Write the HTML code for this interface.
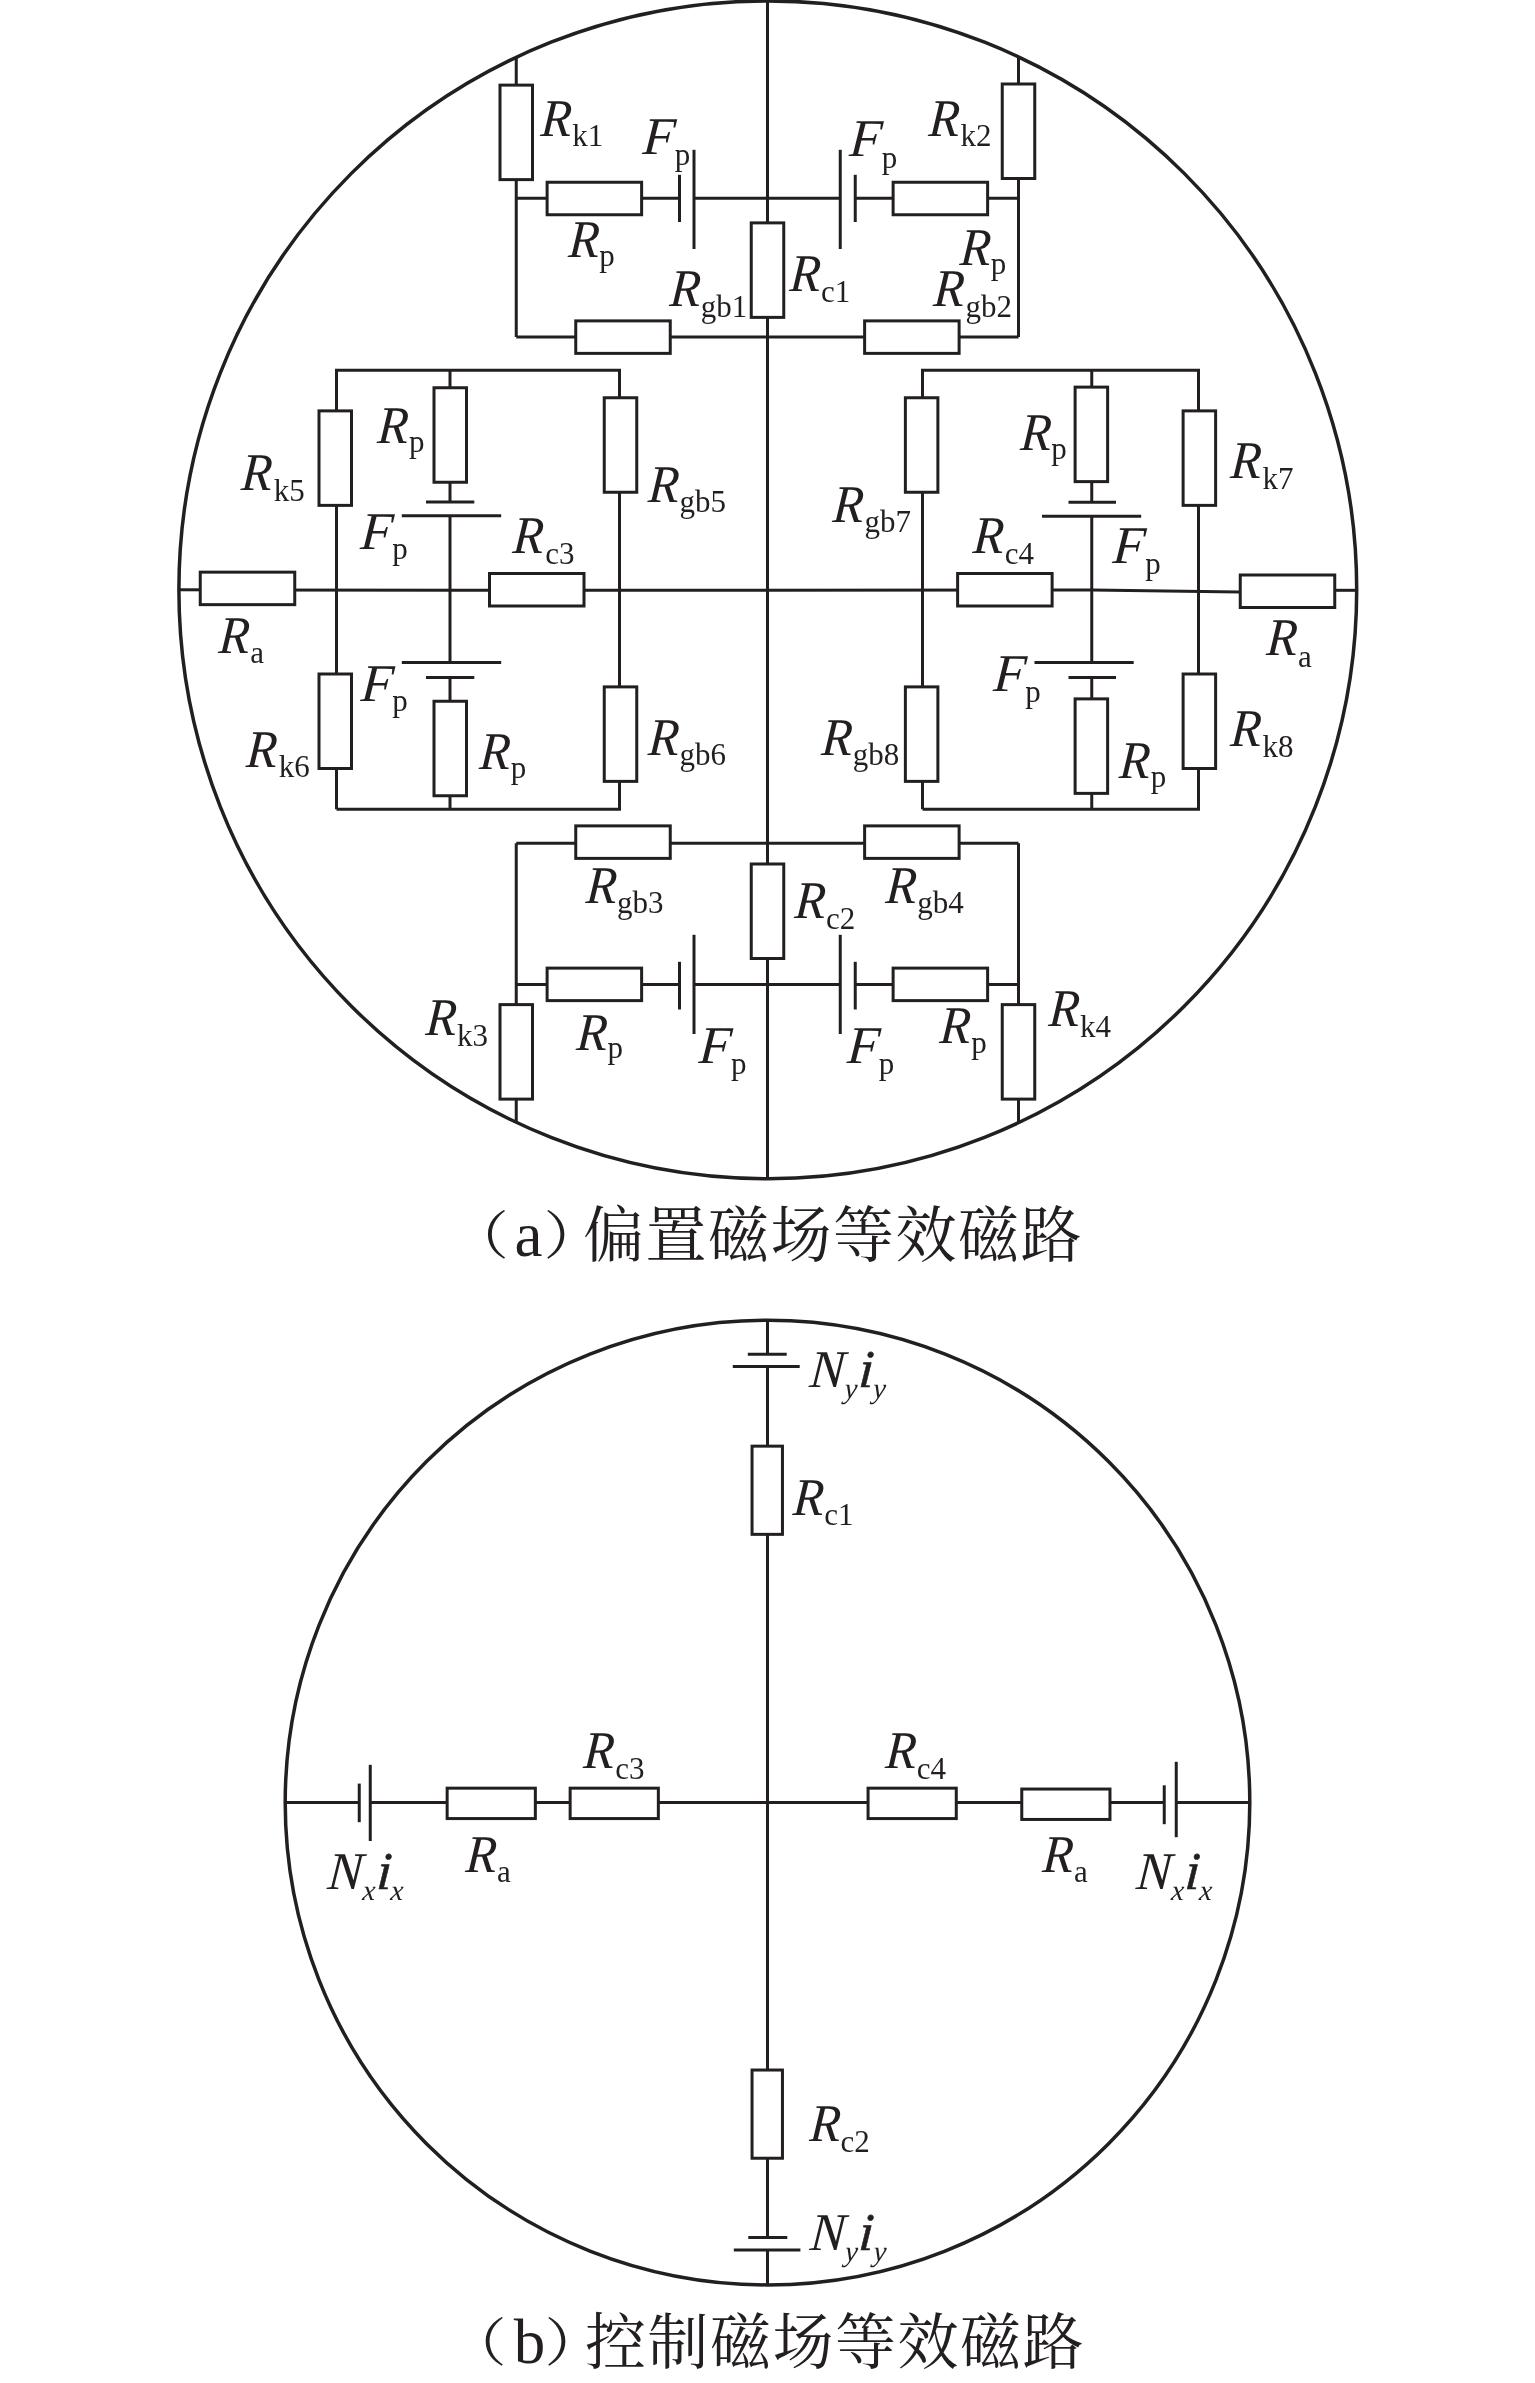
<!DOCTYPE html>
<html lang="zh">
<head>
<meta charset="utf-8">
<title>等效磁路</title>
<style>
html,body{margin:0;padding:0;background:#fff;}
body{width:1535px;height:2383px;overflow:hidden;}
svg{display:block;will-change:transform;}
.g line,.g polyline,.g rect,.g circle{stroke:#231f20;stroke-linecap:butt;stroke-linejoin:miter;}
text{fill:#231f20;font-family:"Liberation Serif","Noto Serif CJK SC",serif;}
.m{font-size:53px;font-style:italic;}
.mb{font-size:53px;font-style:italic;stroke:#231f20;stroke-width:0.6px;stroke-linejoin:round;}
.s{font-size:31px;}
.si{font-size:29px;font-style:italic;}
.cj{font-size:62.5px;font-family:"Noto Serif CJK SC","Liberation Serif",serif;}
.cs{font-size:61px;letter-spacing:1.5px;}
.cp{font-size:52px;}
.cl{font-size:63px;}
</style>
</head>
<body>
<svg width="1535" height="2383" viewBox="0 0 1535 2383">
<rect x="0" y="0" width="1535" height="2383" fill="#fff"/>
<g class="g">
<circle cx="767.80" cy="589.80" r="588.90" fill="none" stroke-width="3.5"/>
<line x1="767.50" y1="1.00" x2="767.50" y2="1178.50" stroke-width="3.0"/>
<polyline points="179.00,589.80 460.00,590.30 1092.00,590.00 1239.50,592.00" stroke-width="3.0" fill="none" stroke-linejoin="round"/>
<line x1="1335.00" y1="590.30" x2="1357.00" y2="590.30" stroke-width="3.0"/>
<line x1="516.25" y1="58.00" x2="516.25" y2="337.00" stroke-width="3.0"/>
<line x1="1018.50" y1="57.00" x2="1018.50" y2="337.00" stroke-width="3.0"/>
<line x1="516.25" y1="198.30" x2="679.50" y2="198.30" stroke-width="3.0"/>
<line x1="694.00" y1="198.30" x2="840.25" y2="198.30" stroke-width="3.0"/>
<line x1="855.25" y1="198.30" x2="1018.50" y2="198.30" stroke-width="3.0"/>
<line x1="516.25" y1="337.00" x2="1018.50" y2="337.00" stroke-width="3.0"/>
<line x1="679.50" y1="174.80" x2="679.50" y2="222.00" stroke-width="3.0"/>
<line x1="694.00" y1="149.80" x2="694.00" y2="249.00" stroke-width="3.0"/>
<line x1="840.25" y1="149.80" x2="840.25" y2="249.00" stroke-width="3.0"/>
<line x1="855.25" y1="174.80" x2="855.25" y2="222.00" stroke-width="3.0"/>
<rect x="500.00" y="85.12" width="32.50" height="94.50" fill="#fff" stroke-width="3.0"/>
<rect x="1002.25" y="84.00" width="32.50" height="94.50" fill="#fff" stroke-width="3.0"/>
<rect x="547.12" y="182.25" width="94.50" height="32.50" fill="#fff" stroke-width="3.0"/>
<rect x="893.12" y="182.25" width="94.50" height="32.50" fill="#fff" stroke-width="3.0"/>
<rect x="575.75" y="320.88" width="94.50" height="32.50" fill="#fff" stroke-width="3.0"/>
<rect x="864.62" y="320.88" width="94.50" height="32.50" fill="#fff" stroke-width="3.0"/>
<rect x="751.25" y="222.88" width="32.50" height="94.50" fill="#fff" stroke-width="3.0"/>
<polyline points="336.50,809.25 336.50,370.20 619.50,370.20 619.50,809.25 336.50,809.25" stroke-width="3.0" fill="none" stroke-linejoin="round"/>
<line x1="450.00" y1="370.20" x2="450.00" y2="502.00" stroke-width="3.0"/>
<line x1="450.00" y1="515.75" x2="450.00" y2="662.50" stroke-width="3.0"/>
<line x1="450.00" y1="677.50" x2="450.00" y2="809.25" stroke-width="3.0"/>
<line x1="426.00" y1="502.00" x2="474.30" y2="502.00" stroke-width="3.0"/>
<line x1="401.80" y1="515.75" x2="501.20" y2="515.75" stroke-width="3.0"/>
<line x1="401.80" y1="662.50" x2="501.20" y2="662.50" stroke-width="3.0"/>
<line x1="426.00" y1="677.50" x2="474.30" y2="677.50" stroke-width="3.0"/>
<rect x="319.00" y="410.88" width="32.50" height="94.50" fill="#fff" stroke-width="3.0"/>
<rect x="319.00" y="674.00" width="32.50" height="94.50" fill="#fff" stroke-width="3.0"/>
<rect x="434.00" y="387.75" width="32.50" height="94.50" fill="#fff" stroke-width="3.0"/>
<rect x="434.00" y="701.25" width="32.50" height="94.50" fill="#fff" stroke-width="3.0"/>
<rect x="604.25" y="397.75" width="32.50" height="94.50" fill="#fff" stroke-width="3.0"/>
<rect x="604.25" y="686.88" width="32.50" height="94.50" fill="#fff" stroke-width="3.0"/>
<polyline points="922.50,809.25 922.50,370.20 1198.50,370.20 1198.50,809.25 922.50,809.25" stroke-width="3.0" fill="none" stroke-linejoin="round"/>
<line x1="1091.75" y1="370.20" x2="1091.75" y2="502.30" stroke-width="3.0"/>
<line x1="1091.75" y1="516.30" x2="1091.75" y2="662.50" stroke-width="3.0"/>
<line x1="1091.75" y1="677.50" x2="1091.75" y2="809.25" stroke-width="3.0"/>
<line x1="1068.50" y1="502.30" x2="1116.00" y2="502.30" stroke-width="3.0"/>
<line x1="1042.00" y1="516.30" x2="1141.20" y2="516.30" stroke-width="3.0"/>
<line x1="1034.50" y1="662.50" x2="1133.70" y2="662.50" stroke-width="3.0"/>
<line x1="1068.50" y1="677.50" x2="1116.00" y2="677.50" stroke-width="3.0"/>
<rect x="905.38" y="397.75" width="32.50" height="94.50" fill="#fff" stroke-width="3.0"/>
<rect x="905.38" y="686.88" width="32.50" height="94.50" fill="#fff" stroke-width="3.0"/>
<rect x="1075.12" y="387.12" width="32.50" height="94.50" fill="#fff" stroke-width="3.0"/>
<rect x="1075.12" y="698.88" width="32.50" height="94.50" fill="#fff" stroke-width="3.0"/>
<rect x="1183.12" y="410.88" width="32.50" height="94.50" fill="#fff" stroke-width="3.0"/>
<rect x="1183.12" y="674.00" width="32.50" height="94.50" fill="#fff" stroke-width="3.0"/>
<rect x="200.25" y="572.15" width="94.50" height="32.50" fill="#fff" stroke-width="3.0"/>
<rect x="489.50" y="573.50" width="94.50" height="32.50" fill="#fff" stroke-width="3.0"/>
<rect x="957.62" y="573.50" width="94.50" height="32.50" fill="#fff" stroke-width="3.0"/>
<rect x="1240.25" y="575.00" width="94.50" height="32.50" fill="#fff" stroke-width="3.0"/>
<line x1="516.25" y1="843.25" x2="1018.50" y2="843.25" stroke-width="3.0"/>
<line x1="516.25" y1="843.25" x2="516.25" y2="1122.00" stroke-width="3.0"/>
<line x1="1018.50" y1="843.25" x2="1018.50" y2="1122.00" stroke-width="3.0"/>
<line x1="516.25" y1="984.50" x2="679.50" y2="984.50" stroke-width="3.0"/>
<line x1="694.00" y1="984.50" x2="840.25" y2="984.50" stroke-width="3.0"/>
<line x1="855.25" y1="984.50" x2="1018.50" y2="984.50" stroke-width="3.0"/>
<line x1="679.50" y1="961.80" x2="679.50" y2="1009.50" stroke-width="3.0"/>
<line x1="694.00" y1="934.80" x2="694.00" y2="1034.00" stroke-width="3.0"/>
<line x1="840.25" y1="934.80" x2="840.25" y2="1034.00" stroke-width="3.0"/>
<line x1="855.25" y1="961.80" x2="855.25" y2="1009.50" stroke-width="3.0"/>
<rect x="575.75" y="825.88" width="94.50" height="32.50" fill="#fff" stroke-width="3.0"/>
<rect x="864.62" y="825.88" width="94.50" height="32.50" fill="#fff" stroke-width="3.0"/>
<rect x="751.25" y="864.00" width="32.50" height="94.50" fill="#fff" stroke-width="3.0"/>
<rect x="547.12" y="968.12" width="94.50" height="32.50" fill="#fff" stroke-width="3.0"/>
<rect x="893.12" y="968.12" width="94.50" height="32.50" fill="#fff" stroke-width="3.0"/>
<rect x="500.00" y="1004.62" width="32.50" height="94.50" fill="#fff" stroke-width="3.0"/>
<rect x="1002.25" y="1004.62" width="32.50" height="94.50" fill="#fff" stroke-width="3.0"/>
<circle cx="767.50" cy="1802.60" r="482.30" fill="none" stroke-width="3.5"/>
<line x1="767.50" y1="1320.30" x2="767.50" y2="1354.25" stroke-width="3.0"/>
<line x1="767.50" y1="1366.50" x2="767.50" y2="2237.50" stroke-width="3.0"/>
<line x1="767.50" y1="2250.00" x2="767.50" y2="2284.90" stroke-width="3.0"/>
<line x1="747.80" y1="1354.25" x2="786.70" y2="1354.25" stroke-width="3.0"/>
<line x1="732.80" y1="1366.50" x2="799.70" y2="1366.50" stroke-width="3.0"/>
<line x1="748.30" y1="2237.50" x2="787.30" y2="2237.50" stroke-width="3.0"/>
<line x1="733.80" y1="2250.00" x2="800.40" y2="2250.00" stroke-width="3.0"/>
<line x1="285.00" y1="1802.60" x2="359.25" y2="1802.60" stroke-width="3.0"/>
<line x1="370.25" y1="1802.60" x2="1164.25" y2="1802.60" stroke-width="3.0"/>
<line x1="1176.25" y1="1802.60" x2="1250.00" y2="1802.60" stroke-width="3.0"/>
<line x1="359.25" y1="1783.60" x2="359.25" y2="1822.20" stroke-width="3.0"/>
<line x1="370.25" y1="1764.80" x2="370.25" y2="1841.00" stroke-width="3.0"/>
<line x1="1164.25" y1="1785.30" x2="1164.25" y2="1824.20" stroke-width="3.0"/>
<line x1="1176.25" y1="1761.80" x2="1176.25" y2="1837.20" stroke-width="3.0"/>
<rect x="752.05" y="1446.15" width="30.40" height="88.20" fill="#fff" stroke-width="3.0"/>
<rect x="752.05" y="2070.03" width="30.40" height="88.20" fill="#fff" stroke-width="3.0"/>
<rect x="447.15" y="1788.17" width="88.20" height="30.40" fill="#fff" stroke-width="3.0"/>
<rect x="570.15" y="1788.17" width="88.20" height="30.40" fill="#fff" stroke-width="3.0"/>
<rect x="868.07" y="1788.17" width="88.20" height="30.40" fill="#fff" stroke-width="3.0"/>
<rect x="1021.77" y="1789.05" width="88.20" height="30.40" fill="#fff" stroke-width="3.0"/>
</g>
<g class="t">
<text transform="translate(540.06 136.20) skewX(-4) scale(0.95 1)" class="m">R</text>
<text x="572.31" y="146.20" class="s">k1</text>
<text transform="translate(642.01 153.80) skewX(-4)" class="m">F</text>
<text x="674.65" y="165.25" class="s">p</text>
<text transform="translate(848.76 156.30) skewX(-4)" class="m">F</text>
<text x="881.65" y="167.75" class="s">p</text>
<text transform="translate(928.01 135.80) skewX(-4) scale(0.95 1)" class="m">R</text>
<text x="960.56" y="146.00" class="s">k2</text>
<text transform="translate(567.76 257.05) skewX(-4) scale(0.95 1)" class="m">R</text>
<text x="599.15" y="266.00" class="s">p</text>
<text transform="translate(959.26 265.05) skewX(-4) scale(0.95 1)" class="m">R</text>
<text x="990.65" y="274.00" class="s">p</text>
<text transform="translate(669.01 305.80) skewX(-4) scale(0.95 1)" class="m">R</text>
<text x="700.82" y="316.75" class="s">gb1</text>
<text transform="translate(789.01 290.80) skewX(-4) scale(0.95 1)" class="m">R</text>
<text x="820.97" y="301.75" class="s">c1</text>
<text transform="translate(932.76 306.30) skewX(-4) scale(0.95 1)" class="m">R</text>
<text x="965.57" y="317.25" class="s">gb2</text>
<text transform="translate(376.76 443.30) skewX(-4) scale(0.95 1)" class="m">R</text>
<text x="408.90" y="451.50" class="s">p</text>
<text transform="translate(240.51 490.05) skewX(-4) scale(0.95 1)" class="m">R</text>
<text x="273.81" y="501.00" class="s">k5</text>
<text transform="translate(359.76 549.30) skewX(-4)" class="m">F</text>
<text x="392.15" y="559.30" class="s">p</text>
<text transform="translate(512.01 553.15) skewX(-4) scale(0.95 1)" class="m">R</text>
<text x="545.22" y="563.95" class="s">c3</text>
<text transform="translate(647.51 501.55) skewX(-4) scale(0.95 1)" class="m">R</text>
<text x="679.57" y="511.75" class="s">gb5</text>
<text transform="translate(832.01 521.55) skewX(-4) scale(0.95 1)" class="m">R</text>
<text x="864.57" y="532.25" class="s">gb7</text>
<text transform="translate(1019.76 450.05) skewX(-4) scale(0.95 1)" class="m">R</text>
<text x="1051.15" y="458.50" class="s">p</text>
<text transform="translate(1229.77 478.30) skewX(-4) scale(0.95 1)" class="m">R</text>
<text x="1262.56" y="488.50" class="s">k7</text>
<text transform="translate(972.26 553.15) skewX(-4) scale(0.95 1)" class="m">R</text>
<text x="1004.82" y="563.95" class="s">c4</text>
<text transform="translate(1112.07 563.20) skewX(-4)" class="m">F</text>
<text x="1145.15" y="573.50" class="s">p</text>
<text transform="translate(218.01 652.55) skewX(-4) scale(0.95 1)" class="m">R</text>
<text x="250.31" y="662.75" class="s">a</text>
<text transform="translate(1265.77 655.05) skewX(-4) scale(0.95 1)" class="m">R</text>
<text x="1298.07" y="666.50" class="s">a</text>
<text transform="translate(360.16 701.30) skewX(-4)" class="m">F</text>
<text x="392.15" y="711.30" class="s">p</text>
<text transform="translate(245.51 766.55) skewX(-4) scale(0.95 1)" class="m">R</text>
<text x="278.81" y="776.50" class="s">k6</text>
<text transform="translate(478.76 769.05) skewX(-4) scale(0.95 1)" class="m">R</text>
<text x="510.65" y="777.75" class="s">p</text>
<text transform="translate(647.51 755.05) skewX(-4) scale(0.95 1)" class="m">R</text>
<text x="679.57" y="765.25" class="s">gb6</text>
<text transform="translate(820.76 755.05) skewX(-4) scale(0.95 1)" class="m">R</text>
<text x="852.82" y="765.25" class="s">gb8</text>
<text transform="translate(992.76 691.30) skewX(-4)" class="m">F</text>
<text x="1025.15" y="702.25" class="s">p</text>
<text transform="translate(1118.52 777.80) skewX(-4) scale(0.95 1)" class="m">R</text>
<text x="1150.65" y="786.75" class="s">p</text>
<text transform="translate(1229.77 746.30) skewX(-4) scale(0.95 1)" class="m">R</text>
<text x="1262.41" y="757.25" class="s">k8</text>
<text transform="translate(585.26 902.55) skewX(-4) scale(0.95 1)" class="m">R</text>
<text x="617.07" y="912.75" class="s">gb3</text>
<text transform="translate(794.01 918.30) skewX(-4) scale(0.95 1)" class="m">R</text>
<text x="825.97" y="928.50" class="s">c2</text>
<text transform="translate(885.01 902.55) skewX(-4) scale(0.95 1)" class="m">R</text>
<text x="917.32" y="912.75" class="s">gb4</text>
<text transform="translate(425.01 1035.30) skewX(-4) scale(0.95 1)" class="m">R</text>
<text x="457.06" y="1046.00" class="s">k3</text>
<text transform="translate(575.76 1049.55) skewX(-4) scale(0.95 1)" class="m">R</text>
<text x="607.40" y="1058.00" class="s">p</text>
<text transform="translate(698.26 1062.55) skewX(-4)" class="m">F</text>
<text x="730.90" y="1073.50" class="s">p</text>
<text transform="translate(846.51 1062.55) skewX(-4)" class="m">F</text>
<text x="878.65" y="1073.50" class="s">p</text>
<text transform="translate(939.01 1043.30) skewX(-4) scale(0.95 1)" class="m">R</text>
<text x="971.15" y="1052.75" class="s">p</text>
<text transform="translate(1048.02 1025.80) skewX(-4) scale(0.95 1)" class="m">R</text>
<text x="1080.06" y="1036.50" class="s">k4</text>
<text transform="translate(792.26 1515.05) skewX(-4) scale(0.95 1)" class="m">R</text>
<text x="824.22" y="1525.25" class="s">c1</text>
<text transform="translate(582.87 1768.30) skewX(-4) scale(0.95 1)" class="m">R</text>
<text x="615.22" y="1778.50" class="s">c3</text>
<text transform="translate(884.66 1768.10) skewX(-4) scale(0.95 1)" class="m">R</text>
<text x="916.82" y="1778.50" class="s">c4</text>
<text transform="translate(465.01 1871.55) skewX(-4) scale(0.95 1)" class="m">R</text>
<text x="497.06" y="1881.75" class="s">a</text>
<text transform="translate(1041.77 1871.55) skewX(-4) scale(0.95 1)" class="m">R</text>
<text x="1074.07" y="1881.75" class="s">a</text>
<text transform="translate(809.01 2140.80) skewX(-4) scale(0.95 1)" class="m">R</text>
<text x="840.47" y="2151.75" class="s">c2</text>
<text transform="translate(808.87 1386.80) skewX(-4)" class="m">N</text>
<text transform="translate(844.11 1397.50) skewX(-4)" class="si">y</text>
<text transform="translate(857.93 1386.80) skewX(-4)" class="mb">i</text>
<text transform="translate(872.41 1397.50) skewX(-4)" class="si">y</text>
<text transform="translate(809.37 2250.10) skewX(-4)" class="m">N</text>
<text transform="translate(844.41 2261.20) skewX(-4)" class="si">y</text>
<text transform="translate(857.93 2250.10) skewX(-4)" class="mb">i</text>
<text transform="translate(872.91 2261.20) skewX(-4)" class="si">y</text>
<text transform="translate(326.87 1889.10) skewX(-4)" class="m">N</text>
<text transform="translate(362.05 1900.40) skewX(-4)" class="si">x</text>
<text transform="translate(375.93 1889.10) skewX(-4)" class="mb">i</text>
<text transform="translate(390.05 1900.40) skewX(-4)" class="si">x</text>
<text transform="translate(1135.57 1889.10) skewX(-4)" class="m">N</text>
<text transform="translate(1170.85 1900.40) skewX(-4)" class="si">x</text>
<text transform="translate(1184.13 1889.10) skewX(-4)" class="mb">i</text>
<text transform="translate(1198.85 1900.40) skewX(-4)" class="si">x</text>
</g>
<g class="c">
<text transform="translate(448.90 1253.75) scale(1.15 1)" class="cj cp">（</text>
<text x="514.60" y="1256.00" class="cl">a</text>
<text transform="translate(543.40 1253.75) scale(1.15 1)" class="cj cp">）</text>
<text x="583" y="1257.2" class="cj cs">偏置磁场等效磁路</text>
<text transform="translate(446.80 2360.50) scale(1.15 1)" class="cj cp">（</text>
<text x="513.80" y="2363.00" class="cl">b</text>
<text transform="translate(544.50 2360.50) scale(1.15 1)" class="cj cp">）</text>
<text x="585" y="2364.2" class="cj cs">控制磁场等效磁路</text>
</g>
</svg>
</body>
</html>
